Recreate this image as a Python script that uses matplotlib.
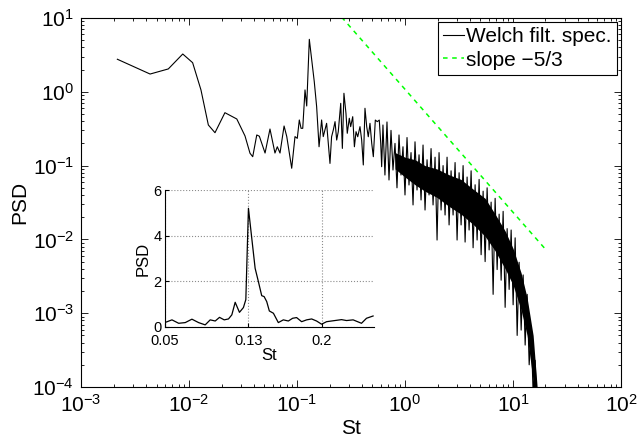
import numpy as np
import matplotlib
matplotlib.use('Agg')
import matplotlib.pyplot as plt
from matplotlib.ticker import LogLocator, NullFormatter

plt.rcParams['font.family'] = ['Liberation Sans', 'DejaVu Sans']
plt.rcParams['mathtext.fontset'] = 'custom'
plt.rcParams['mathtext.rm'] = 'Liberation Sans'
plt.rcParams['mathtext.it'] = 'Liberation Sans:italic'

# low frequency part of the spectrum (sparse points)
st_low = [0.00217, 0.00436, 0.00643, 0.00875, 0.0108, 0.0129, 0.0151, 0.0174, 0.0215, 0.0277,
          0.0330, 0.0367, 0.0389, 0.0424, 0.0448, 0.0506, 0.0562, 0.0625, 0.0657, 0.0696,
          0.0759, 0.0804, 0.0893, 0.0958, 0.1006, 0.105, 0.109, 0.113, 0.1186, 0.123,
          0.130, 0.1445, 0.152, 0.160, 0.169, 0.175, 0.188, 0.202, 0.209, 0.217,
          0.225, 0.233, 0.241, 0.254, 0.263, 0.272, 0.284, 0.292, 0.305, 0.314,
          0.328, 0.340, 0.352, 0.365, 0.383, 0.397, 0.411, 0.426, 0.442, 0.457,
          0.474, 0.492, 0.509, 0.531, 0.554, 0.578, 0.596, 0.608]
psd_low = [2.76, 1.74, 2.04, 3.25, 2.48, 1.06, 0.355, 0.279, 0.521, 0.428,
           0.252, 0.147, 0.132, 0.260, 0.25, 0.148, 0.313, 0.148, 0.180, 0.148,
           0.344, 0.247, 0.092, 0.247, 0.234, 0.415, 0.320, 0.32, 1.06, 0.642,
           5.14, 1.37, 0.628, 0.180, 0.415, 0.247, 0.374, 0.107, 0.246, 0.305,
           0.394, 0.222, 0.288, 0.698, 0.171, 0.955, 0.511, 0.274, 0.438, 0.337,
           0.460, 0.180, 0.288, 0.246, 0.337, 0.222, 0.102, 0.598, 0.337, 0.246,
           0.374, 0.200, 0.132, 0.414, 0.394, 0.414, 0.200, 0.0966]

# high frequency part (dense, noisy)
st_high = [0.625, 0.652, 0.681, 0.711, 0.742, 0.774, 0.808, 0.843, 0.880, 0.918,
           0.958, 1.000, 1.044, 1.089, 1.137, 1.187, 1.238, 1.292, 1.349, 1.408,
           1.469, 1.533, 1.600, 1.670, 1.743, 1.819, 1.898, 1.981, 2.067, 2.158,
           2.252, 2.350, 2.452, 2.560, 2.671, 2.788, 2.909, 3.036, 3.169, 3.307,
           3.451, 3.602, 3.759, 3.923, 4.094, 4.272, 4.459, 4.653, 4.856, 5.068,
           5.289, 5.520, 5.760, 6.012, 6.274, 6.547, 6.833, 7.131, 7.442, 7.766,
           8.105, 8.458, 8.827, 9.212, 9.614, 10.03, 10.47, 10.93, 11.40, 11.90,
           12.42, 12.96, 13.53, 14.12, 14.73, 15.37, 16.04, 16.74]
psd_high = [0.355, 0.0745, 0.39, 0.0638, 0.30, 0.0871, 0.20, 0.05, 0.26, 0.0745,
            0.18, 0.040, 0.24, 0.0546, 0.15, 0.0293, 0.21, 0.0467, 0.14, 0.0342,
            0.19, 0.025, 0.12, 0.040, 0.17, 0.0293, 0.13, 0.0098, 0.15, 0.025,
            0.10, 0.0214, 0.13, 0.0157, 0.085, 0.0214, 0.11, 0.0098, 0.08, 0.0157,
            0.10, 0.0092, 0.07, 0.0134, 0.085, 0.0077, 0.055, 0.0098, 0.065, 0.0062,
            0.045, 0.0050, 0.05, 0.0072, 0.032, 0.0018, 0.036, 0.0039, 0.022, 0.0028,
            0.024, 0.0012, 0.014, 0.0021, 0.0134, 0.0013, 0.0105, 0.0005, 0.0049, 0.00059,
            0.0033, 0.00037, 0.0018, 0.0002, 0.00059, 0.00008, 0.00023, 0.000035]

# solid core of the dense band
st_core = [0.81, 1.0, 1.24, 1.53, 1.98, 2.56, 3.30, 4.27, 5.52, 6.83, 8.46, 10.03, 11.9, 13.53, 15.37, 16.74]
core_hi = [0.15, 0.13, 0.12, 0.10, 0.09, 0.075, 0.065, 0.048, 0.036, 0.022, 0.013, 0.0075, 0.0035, 0.0016, 0.0005, 0.0001]
core_lo = [0.09, 0.07, 0.055, 0.045, 0.037, 0.028, 0.022, 0.016, 0.011, 0.007, 0.004, 0.0024, 0.0011, 0.0005, 0.00012, 0.00002]

# reference -5/3 slope
st_slope = [0.2, 20.0]
psd_slope = [15.8, 0.00735]

# inset (linear) spectrum around the peak
st_zoom = [0.0505, 0.0568, 0.0632, 0.0695, 0.0759, 0.0823, 0.0886, 0.0934, 0.0982, 0.1023,
           0.1068, 0.1109, 0.1141, 0.1173, 0.1214, 0.1252, 0.1275, 0.130, 0.1332, 0.1364,
           0.1395, 0.1427, 0.1450, 0.1475, 0.1500, 0.1539, 0.1586, 0.1634, 0.1682, 0.1723,
           0.1761, 0.1809, 0.1857, 0.1905, 0.1952, 0.200, 0.2048, 0.2095, 0.2143, 0.2191,
           0.2239, 0.2302, 0.2382, 0.2430, 0.2493]
psd_zoom = [0.20, 0.31, 0.16, 0.19, 0.34, 0.19, 0.09, 0.31, 0.26, 0.42,
            0.31, 0.35, 0.53, 1.08, 0.64, 0.85, 1.2, 5.20, 3.88, 2.57,
            1.99, 1.37, 1.33, 1.11, 0.70, 0.60, 0.19, 0.31, 0.26, 0.38,
            0.41, 0.23, 0.31, 0.35, 0.26, 0.12, 0.23, 0.26, 0.29, 0.32,
            0.28, 0.31, 0.16, 0.38, 0.48]

fig = plt.figure(figsize=(6.39, 4.43), dpi=100)
ax = fig.add_axes([0.1268, 0.1264, 0.845, 0.833])

st_all = st_low + st_high
psd_all = psd_low + psd_high
ax.fill_between(st_core, core_lo, core_hi, color='k', lw=0)
ax.plot(st_all, psd_all, color='k', lw=0.8, label='Welch filt. spec.')
ax.plot(st_slope, psd_slope, color='#00ff00', ls='--', dashes=(3, 3), lw=1.1, label='slope \u22125/3')
ax.set_xscale('log')
ax.set_yscale('log')
ax.set_xlim(1e-3, 1e2)
ax.set_ylim(1e-4, 1e1)

for axis in (ax.xaxis, ax.yaxis):
    axis.set_major_locator(LogLocator(base=10, numticks=12))
    axis.set_minor_locator(LogLocator(base=10, subs=np.arange(2, 10), numticks=12))
    axis.set_minor_formatter(NullFormatter())
ax.tick_params(which='both', direction='in', top=True, right=True, width=0.6)
ax.tick_params(which='major', length=5, labelsize=15, pad=5)
ax.tick_params(which='minor', length=2.5)
for s in ax.spines.values():
    s.set_linewidth(0.8)
ax.set_xlabel('St', fontsize=15, labelpad=2)
ax.set_ylabel('PSD', fontsize=15, labelpad=2)

leg = ax.legend(loc='upper right', fontsize=15, handlelength=1.0, handletextpad=0.1,
                borderaxespad=0.2, fancybox=False, framealpha=1, edgecolor='k',
                borderpad=0.25, labelspacing=0.2)
leg.get_frame().set_linewidth(0.8)

# inset
ins = fig.add_axes([0.258, 0.262, 0.327, 0.309])
ins.plot(st_zoom, psd_zoom, color='k', lw=0.9)
ins.set_xlim(0.05, 0.25)
ins.set_ylim(0, 6)
ins.set_xticks([0.05, 0.13, 0.2])
ins.set_xticklabels(['0.05', '0.13', '0.2'])
ins.set_yticks([0, 2, 4, 6])
ins.grid(True, ls=':', color='0.55', lw=0.8)
ins.spines['top'].set_visible(False)
ins.spines['right'].set_visible(False)
ins.tick_params(direction='in', length=3, labelsize=10.5)
ins.tick_params(axis='x', pad=5)
ins.tick_params(axis='y', pad=2.5)
ins.set_xlabel('St', fontsize=12, labelpad=0)
ins.set_ylabel('PSD', fontsize=12, labelpad=2)

fig.savefig('out.png', dpi=100)
